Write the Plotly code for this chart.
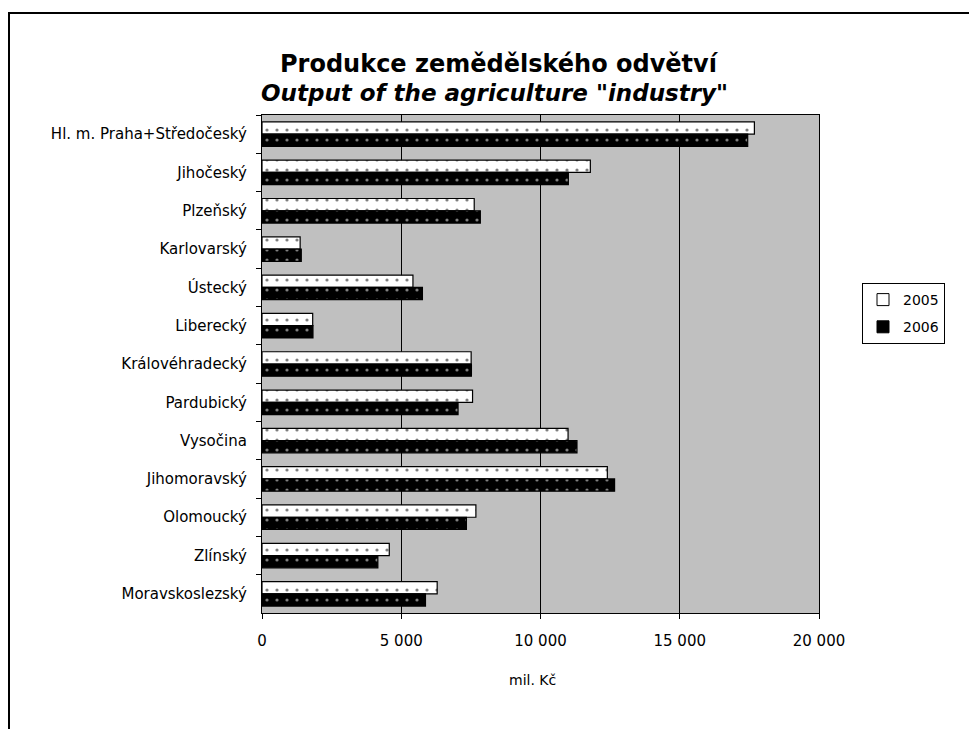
import plotly.graph_objects as go

regions = ["Hl. m. Praha+Středočeský", "Jihočeský", "Plzeňský", "Karlovarský", "Ústecký",
           "Liberecký", "Královéhradecký", "Pardubický", "Vysočina", "Jihomoravský",
           "Olomoucký", "Zlínský", "Moravskoslezský"]
v2005 = [17680, 11790, 7620, 1370, 5420, 1820, 7510, 7560, 10990, 12400, 7680, 4570, 6290]
v2006 = [17440, 11000, 7840, 1410, 5760, 1830, 7520, 7040, 11310, 12660, 7340, 4160, 5870]
xticks = [0, 5000, 10000, 15000, 20000]

FONT = "DejaVu Sans, Liberation Sans, Arial, sans-serif"

# page body has an 8px margin: the figure is sized to fit the window
OFF = 8
W, H = 977 - OFF, 729 - OFF
L, R, T, B = 262, 819, 115, 613   # plot area in window pixels
pw, ph = R - L, B - T


def px(x):
    return (x - L) / pw


def py(y):
    return (B - y) / ph


fig = go.Figure()
fig.add_trace(go.Bar(
    y=regions, x=v2005, name="2005", orientation="h", showlegend=False, offsetgroup="a",
    marker=dict(color="white", line=dict(color="black", width=1.2),
                pattern=dict(shape=".", fgcolor="black", bgcolor="white", size=10, solidity=0.08)),
))
fig.add_trace(go.Bar(
    y=regions, x=v2006, name="2006", orientation="h", showlegend=False, offsetgroup="b",
    marker=dict(color="black", line=dict(color="black", width=1.2),
                pattern=dict(shape=".", fgcolor="white", bgcolor="black", size=10, solidity=0.08)),
))
# legend entries (plain squares, as in the reference)
fig.add_trace(go.Bar(y=[None], x=[None], name="2005", orientation="h", legendgroup="a",
                     offsetgroup="a",
                     marker=dict(color="white", line=dict(color="black", width=1))))
fig.add_trace(go.Bar(y=[None], x=[None], name="2006", orientation="h", legendgroup="b",
                     offsetgroup="b",
                     marker=dict(color="black", line=dict(color="black", width=1))))

fig.update_layout(
    width=W, height=H,
    margin=dict(l=L - OFF, r=W - (R - OFF), t=T - OFF, b=H - (B - OFF), pad=0),
    paper_bgcolor="white", plot_bgcolor="#C0C0C0",
    barmode="group", bargap=0.36, bargroupgap=0,
    separators=", ",
    font=dict(family=FONT, size=15, color="black"),
    showlegend=True,
    legend=dict(x=px(862), y=py(283), xanchor="left", yanchor="top",
                bordercolor="black", borderwidth=1, bgcolor="white",
                font=dict(family=FONT, size=14), traceorder="grouped",
                itemwidth=30, tracegroupgap=6),
    xaxis=dict(range=[0, 20000], tickvals=xticks, tickformat=",d",
               showgrid=True, gridcolor="black", gridwidth=1.2,
               showline=True, linecolor="black", linewidth=1.2, mirror=True,
               ticks="outside", ticklen=5, tickcolor="black", zeroline=False,
               tickfont=dict(family=FONT, size=15), ticklabelstandoff=9, fixedrange=True),
    yaxis=dict(autorange="reversed", showline=True, linecolor="black", linewidth=1.2, mirror=True,
               ticks="outside", ticklen=5, tickcolor="black", tickson="boundaries",
               showgrid=False, tickfont=dict(family=FONT, size=15), ticklabelstandoff=11,
               fixedrange=True),
    annotations=[
        dict(text="<b>Produkce zemědělského odvětví</b>", xref="paper", yref="paper",
             x=px(499), y=py(64), xanchor="center", yanchor="middle", showarrow=False,
             font=dict(family=FONT, size=24)),
        dict(text="<b><i>Output of the agriculture \"industry\"</i></b>", xref="paper", yref="paper",
             x=px(494), y=py(93), xanchor="center", yanchor="middle", showarrow=False,
             font=dict(family=FONT, size=23)),
        dict(text="mil. Kč", xref="paper", yref="paper",
             x=px(532), y=py(680), xanchor="center", yanchor="middle",
             showarrow=False, font=dict(family=FONT, size=14)),
    ],
    shapes=[
        dict(type="rect", xref="paper", yref="paper",
             x0=px(9), x1=px(1000), y0=py(760), y1=py(13),
             line=dict(color="black", width=2), fillcolor="rgba(0,0,0,0)", layer="below"),
    ],
)

fig.write_html("out.html")
